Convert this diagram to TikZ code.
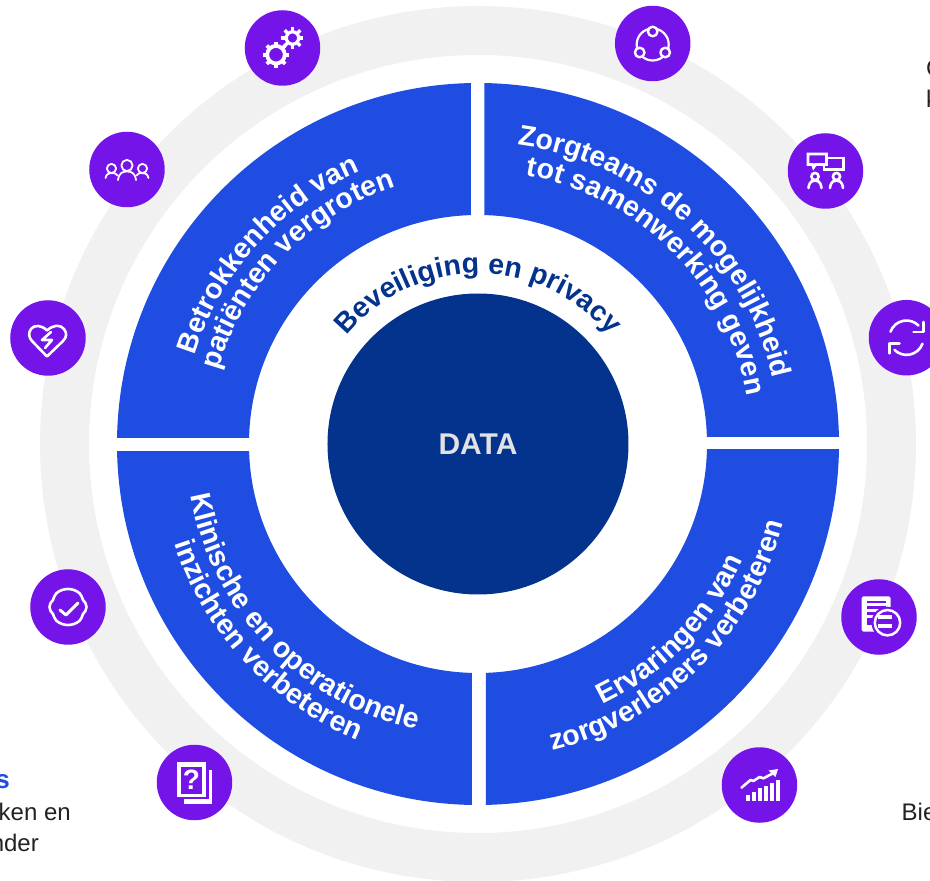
\documentclass[tikz,border=0pt]{standalone}
\usepackage{fontspec}
\setmainfont{Liberation Sans}
\usetikzlibrary{decorations.text,calc}
\definecolor{ringgray}{HTML}{F1F1F1}
\definecolor{secblue}{HTML}{1F4DE2}
\definecolor{navy}{HTML}{03338C}
\definecolor{iconpurple}{HTML}{7514E8}
\definecolor{datagray}{HTML}{E2E2E2}
\definecolor{inktext}{HTML}{222222}
\newcommand{\arcfont}{\fontsize{28.5}{30}\selectfont\bfseries}
\newcommand{\arctext}[6]{% radius, start, end, text, colour, font
  \path[decorate,decoration={text along path,text align=center,text color=#5,
    text={|#6|#4}}] (#2:#1) arc[start angle=#2,end angle=#3,radius=#1];}
\tikzset{
  sector/.style={draw=secblue,line width=132pt},
  iconbg/.style={circle,fill=iconpurple,minimum size=75.5pt,inner sep=0pt},
  ico/.style={draw=white,line width=2pt,line cap=round,line join=round},
  sidetext/.style={inner sep=0pt,font=\fontsize{24}{24}\selectfont,text=inktext},
}
\begin{document}
\begin{tikzpicture}[x=1pt,y=1pt]
\useasboundingbox (-478,-437) rectangle (452,444);
% outer grey ring
\draw[ringgray,line width=49pt] (0,0) circle[radius=413.5];
% four sectors
\begin{scope}\clip (-400,6) rectangle (-7,400);\draw[sector] (0,0) circle[radius=295];\end{scope}
\begin{scope}\clip (6.5,7) rectangle (400,400);\draw[sector] (0,0) circle[radius=295];\end{scope}
\begin{scope}\clip (8,-6) rectangle (400,-400);\draw[sector] (0,0) circle[radius=295];\end{scope}
\begin{scope}\clip (-400,-7.5) rectangle (-6,-400);\draw[sector] (0,0) circle[radius=295];\end{scope}
% centre
\node[circle,fill=navy,minimum size=301pt,inner sep=0pt,text=datagray,font=\fontsize{30}{30}\selectfont\bfseries] (data) at (0,0) {DATA};
% arc texts
\arctext{170.5}{150}{30}{Beveiliging en privacy}{navy}{\arcfont}
\arctext{297}{176}{100}{Betrokkenheid van}{white}{\arcfont}
\arctext{270}{174}{98}{patiënten vergroten}{white}{\arcfont}
\arctext{302}{90.5}{4.5}{Zorgteams de mogelijkheid}{white}{\arcfont}
\arctext{273}{90}{0}{tot samenwerking geven}{white}{\arcfont}
\arctext{292}{181}{267}{Klinische en operationele}{white}{\arcfont}
\arctext{319.5}{180}{266}{inzichten verbeteren}{white}{\arcfont}
\arctext{289}{272}{360}{Ervaringen van}{white}{\arcfont}
\arctext{315.5}{270.5}{358.5}{zorgverleners verbeteren}{white}{\arcfont}
% icon discs
\node[iconbg] (gears) at (-195.5,396) {};
\node[iconbg] (people) at (-351,274.5) {};
\node[iconbg] (heart) at (-430,106) {};
\node[iconbg] (check) at (-410,-163) {};
\node[iconbg] (question) at (-283.5,-338.5) {};
\node[iconbg] (chart) at (281.5,-341) {};
\node[iconbg] (doc) at (401,-173) {};
\node[iconbg] (sync) at (428.5,106.3) {};
\node[iconbg] (board) at (347.5,273) {};
\node[iconbg] (share) at (174.7,400.5) {};
% gears icon
\begin{scope}[shift={(gears.center)}]
  \draw[ico,line width=3.8pt] (-6.5,-6.7) circle[radius=8.8];
  \foreach \a in {0,45,...,315}{\draw[ico,line width=3.8pt,line cap=butt] ($(-6.5,-6.7)+(\a:9)$) -- ($(-6.5,-6.7)+(\a:13)$);}
  \draw[ico,line width=3.2pt] (10,10) circle[radius=6.2];
  \foreach \a in {0,45,...,315}{\draw[ico,line width=3.2pt,line cap=butt] ($(10,10)+(\a:6.5)$) -- ($(10,10)+(\a:11)$);}
\end{scope}
% people icon
\begin{scope}[shift={(people.center)}]
  \draw[ico,line width=1.8pt] (0,4) circle[radius=5.6];
  \draw[ico,line width=1.8pt] (-15.5,1) circle[radius=4.6];
  \draw[ico,line width=1.8pt] (15.5,1) circle[radius=4.6];
  \draw[ico,line width=1.8pt] (-9,-10.5) .. controls (-8,-3) and (-4,-2) .. (0,-2) .. controls (4,-2) and (8,-3) .. (9,-10.5);
  \draw[ico,line width=1.8pt] (-21.5,-8.5) .. controls (-20.5,-4) and (-18,-3.5) .. (-15,-3.5) .. controls (-12.5,-3.5) and (-10.5,-4) .. (-9.5,-6);
  \draw[ico,line width=1.8pt] (21.5,-8.5) .. controls (20.5,-4) and (18,-3.5) .. (15,-3.5) .. controls (12.5,-3.5) and (10.5,-4) .. (9.5,-6);
\end{scope}
% heart icon
\begin{scope}[shift={(heart.center)}]
  \draw[ico,line width=2.6pt] (-1,7.5) .. controls (-6,13) and (-14,13.5) .. (-17,9) .. controls (-20,5) and (-19,0) .. (-16,-3) -- (-1,-18.5) -- (15,-3) .. controls (19,1) and (19,5) .. (16,9) .. controls (12,14) and (5,13) .. (-1,7.5);
  \draw[ico,line width=2.6pt] (3,6) -- (-6,-2) -- (4,-2) -- (-3,-10);
\end{scope}
% check icon
\begin{scope}[shift={(check.center)}]
  \draw[ico,line width=2.6pt] (-11.6,13.8) arc[start angle=130,end angle=50,radius=18] .. controls (14,10.5) and (14.5,8.5) .. (15,7) .. controls (17,5) and (18.5,3) .. (18.5,0) .. controls (18.5,-3) and (17,-5) .. (15,-7) .. controls (14.5,-8.5) and (14,-10.5) .. (11.6,-13.8) arc[start angle=-50,end angle=-130,radius=18] .. controls (-14,-10.5) and (-14.5,-8.5) .. (-15,-7) .. controls (-17,-5) and (-18.5,-3) .. (-18.5,0) .. controls (-18.5,3) and (-17,5) .. (-15,7) .. controls (-14.5,8.5) and (-14,10.5) .. (-11.6,13.8);
  \draw[ico,line width=3pt] (-8,-3) -- (-2,-8) -- (10,4);
\end{scope}
% question icon
\begin{scope}[shift={(question.center)}]
  \fill[white] (-10,13) rectangle (18,-21.5);
  \fill[iconpurple] (-13,16) rectangle (14.5,-16.5);
  \fill[white] (-17,20.5) rectangle (11.5,-14.5);
  \fill[iconpurple] (-13.5,16) rectangle (7.5,-11);
  \node[inner sep=0pt,text=white,font=\fontsize{28}{28}\selectfont\bfseries] (qmark) at (-3,2.5) {?};
\end{scope}
% chart icon
\begin{scope}[shift={(chart.center)}]
  \fill[white] (-13.3,-15.7) rectangle ++(3.6,5.7);
  \fill[white] (-7.3,-15.7) rectangle ++(3.6,9);
  \fill[white] (-1.3,-15.7) rectangle ++(3.6,12.4);
  \fill[white] (4.7,-15.7) rectangle ++(3.6,15);
  \fill[white] (10.7,-15.7) rectangle ++(3.6,18);
  \fill[white] (16.7,-15.7) rectangle ++(3.6,20.7);
  \draw[ico,line width=2.6pt] (-18,-2.7) -- (-9,5) -- (-6,4) -- (0,8) -- (4,6.7) -- (15,12.5);
  \fill[white] (18.5,16) -- (9,14.5) -- (16,8) -- cycle;
\end{scope}
% document icon
\begin{scope}[shift={(doc.center)}]
  \fill[white,rounded corners=1.5pt] (-17.5,20.5) rectangle (11.5,-14.5);
  \fill[iconpurple] (-12.5,15.5) rectangle (7,13.5);
  \fill[iconpurple] (-12.5,10.5) rectangle (7,8);
  \fill[iconpurple] (-12.5,5) rectangle (0,2.5);
  \fill[iconpurple] (-12.5,-1) rectangle (-5,-8);
  \fill[iconpurple] (8.5,-5.7) circle[radius=16];
  \draw[draw=white,line width=2.5pt] (8.5,-5.7) circle[radius=12.7];
  \fill[white] (-1,1.7) rectangle (13,-2.3);
  \fill[white] (-1,-7) rectangle (13,-11);
\end{scope}
% sync icon
\begin{scope}[shift={(sync.center)}]
  \draw[ico,line width=2.6pt] (-16,6) arc[start angle=160,end angle=45,radius=17];
  \draw[ico,line width=2.6pt] (16,-6) arc[start angle=-20,end angle=-135,radius=17];
  \draw[ico,line width=2.6pt] (17,15.7) -- (17,5.6) -- (7,5.6);
  \draw[ico,line width=2.6pt] (-17,-15.7) -- (-17,-5.6) -- (-7,-5.6);
\end{scope}
% board icon
\begin{scope}[shift={(board.center)}]
  \draw[ico,line width=2.8pt,line cap=butt,line join=miter,fill=iconpurple] (-17.5,17) -- (1,17) -- (1,6.5) -- (-10,6.5) -- (-12,3.5) -- (-13,6.5) -- (-17.5,6.5) -- cycle;
  \draw[ico,line width=2.8pt,line cap=butt,line join=miter] (1,13) -- (18,13) -- (18,1.5) -- (-1.5,1.5) -- (-1.5,6.5);
  \draw[ico,line width=2.6pt] (-10.5,-5.5) circle[radius=3.6];
  \draw[ico,line width=2.6pt] (11,-5.5) circle[radius=3.6];
  \draw[ico,line width=2.6pt] (-17,-17) .. controls (-16,-10) and (-13,-9.5) .. (-10.5,-9.5) .. controls (-8,-9.5) and (-5,-10) .. (-4,-17);
  \draw[ico,line width=2.6pt] (4.5,-17) .. controls (5.5,-10) and (8.5,-9.5) .. (11,-9.5) .. controls (13.5,-9.5) and (16.5,-10) .. (17.5,-17);
\end{scope}
% share icon
\begin{scope}[shift={(share.center)}]
  \draw[ico,line width=2.2pt] (0,-1) circle[radius=16];
  \draw[ico,line width=2.4pt,fill=iconpurple] (0,12) circle[radius=4.8];
  \draw[ico,line width=2.4pt,fill=iconpurple] (-13,-9) circle[radius=4.8];
  \draw[ico,line width=2.4pt,fill=iconpurple] (12.5,-9) circle[radius=4.8];
\end{scope}
% cropped side texts
\node[sidetext,anchor=base east,text=secblue,font=\fontsize{26}{26}\selectfont\bfseries] (lblS) at (-468,-344) {s};
\node[sidetext,anchor=base east] (lblA) at (-407,-376) {ken en};
\node[sidetext,anchor=base east] (lblB) at (-439,-407) {nder};
\node[sidetext,anchor=base west] (lblC) at (448,367) {C};
\node[sidetext,anchor=base west] (lblD) at (448,336) {k};
\node[sidetext,anchor=base west] (lblE) at (423.5,-376) {Bie};
\end{tikzpicture}
\end{document}
